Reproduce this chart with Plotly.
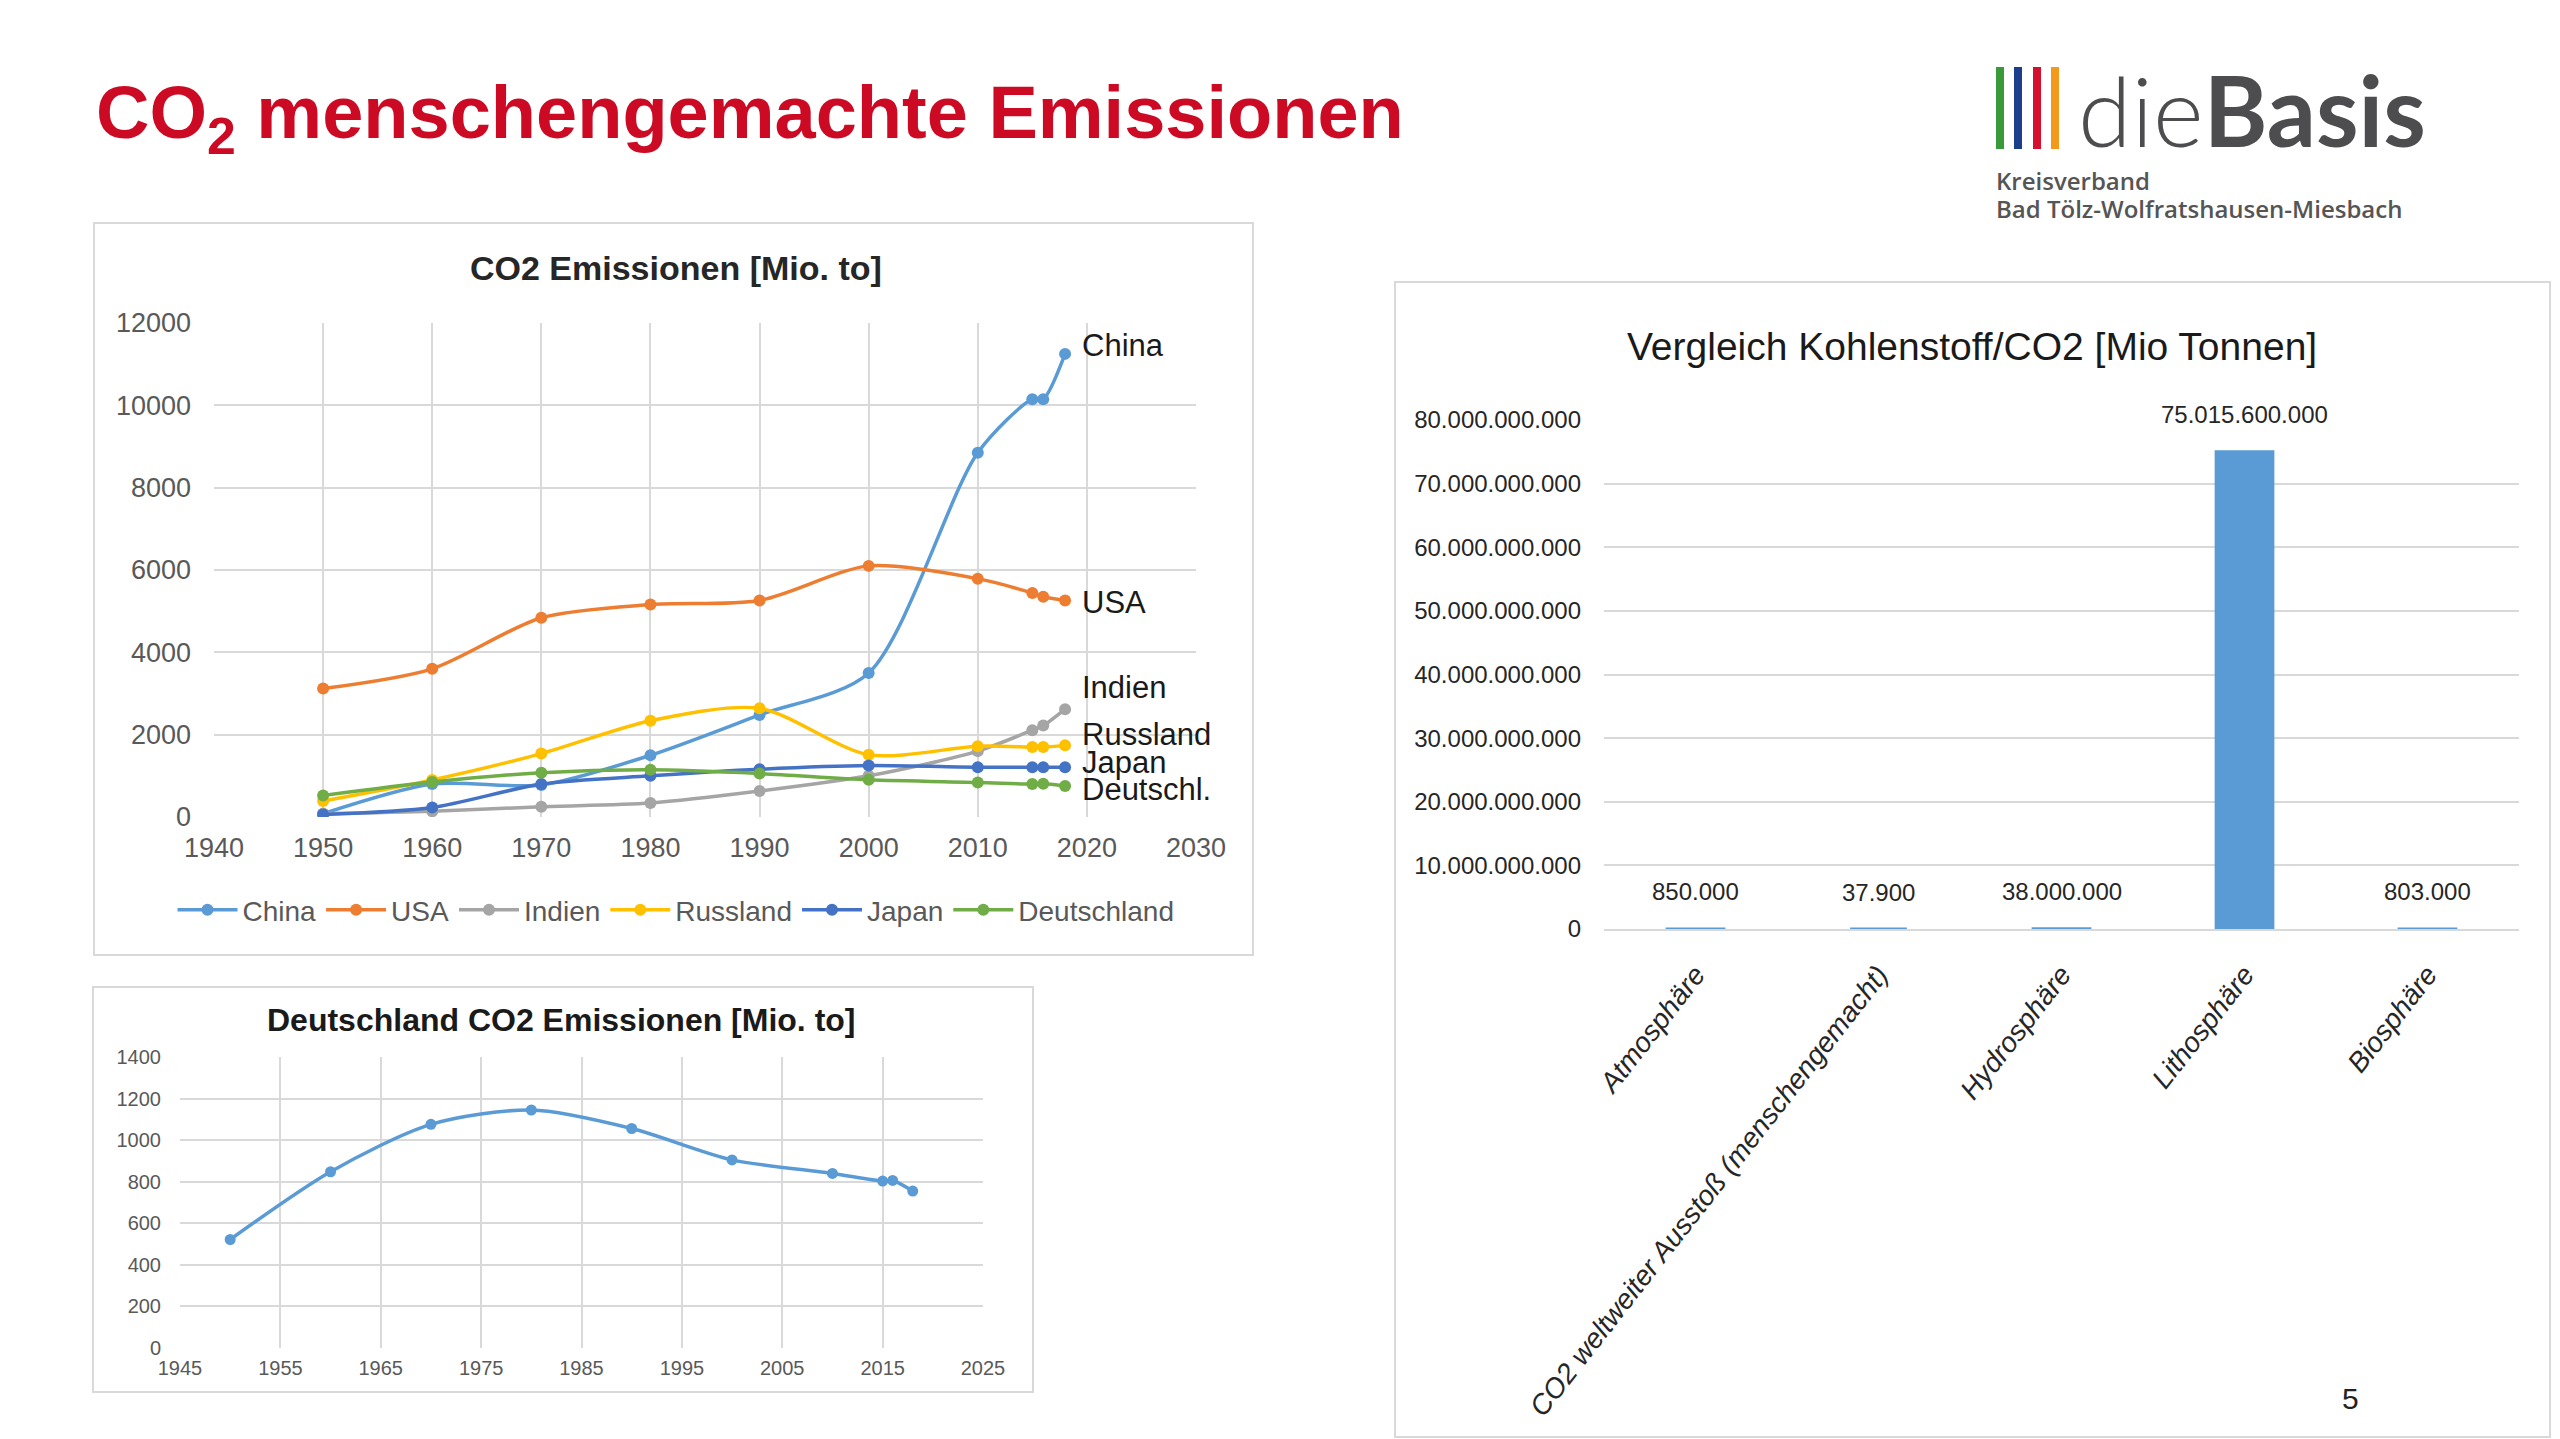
import plotly.graph_objects as go

W, H = 2560, 1439
OFF = 8  # the page body margin shifts the figure by this many pixels

# --- chart 1: CO2 Emissionen [Mio. to] ---
years = [1950, 1960, 1970, 1980, 1990, 2000, 2010, 2015, 2016, 2018]
china = [80, 800, 780, 1500, 2480, 3500, 8850, 10150, 10150, 11250]
usa = [3120, 3600, 4840, 5160, 5260, 6100, 5790, 5440, 5350, 5260]
indien = [80, 140, 250, 340, 630, 1000, 1600, 2110, 2220, 2620]
russland = [390, 900, 1540, 2340, 2640, 1510, 1720, 1700, 1700, 1740]
japan = [60, 230, 800, 1000, 1160, 1250, 1210, 1210, 1210, 1210]
deutschland = [525, 850, 1075, 1145, 1055, 905, 840, 800, 805, 755]

countries = ["China", "USA", "Indien", "Russland", "Japan", "Deutschland"]
colors = ["#5B9BD5", "#ED7D31", "#A5A5A5", "#FFC000", "#4472C4", "#70AD47"]
end_labels = ["China", "USA", "Indien", "Russland", "Japan", "Deutschl."]
end_label_y = [11450, 5200, 3150, 2000, 1330, 660]
end_label_x = 2019.4

# --- chart 2: Deutschland CO2 Emissionen [Mio. to] ---
de_years = [1950, 1960, 1970, 1980, 1990, 2000, 2010, 2015, 2016, 2018]
de_values = [522, 848, 1076, 1145, 1056, 905, 840, 803, 806, 755]

# --- chart 3: Vergleich Kohlenstoff/CO2 [Mio Tonnen] ---
spheres = ["Atmosphäre", "CO2 weltweiter Ausstoß (menschengemacht)", "Hydrosphäre",
           "Lithosphäre", "Biosphäre"]
carbon = [850000, 37900, 38000000, 75015600000, 803000]

SANS = "Liberation Sans, Arial, sans-serif"
GRID = "#d9d9d9"
TICK = "#595959"


def px(x):
    return (x - OFF) / W


def py(y):
    return 1 - (y - OFF) / H


def label(x, y, text, font, xanchor="center"):
    return dict(x=px(x), y=py(y), xref="paper", yref="paper", text=text,
                showarrow=False, xanchor=xanchor, yanchor="middle", font=font)


fig = go.Figure()

series = [china, usa, indien, russland, japan, deutschland]
for name, vals, col in zip(countries, series, colors):
    fig.add_trace(go.Scatter(
        x=years, y=vals, name=name, mode="lines+markers",
        line=dict(color=col, width=3.5, shape="spline", smoothing=0.8),
        marker=dict(color=col, size=12),
        xaxis="x", yaxis="y"))

fig.add_trace(go.Scatter(
    x=de_years, y=de_values, mode="lines+markers", showlegend=False,
    line=dict(color="#5B9BD5", width=3.5, shape="spline", smoothing=0.8),
    marker=dict(color="#5B9BD5", size=11),
    xaxis="x2", yaxis="y2"))

fig.add_trace(go.Bar(
    x=spheres, y=carbon, showlegend=False,
    marker=dict(color="#5B9BD5", line=dict(color="#5B9BD5", width=3)),
    xaxis="x3", yaxis="y3"))

annotations = []
for lab, ly in zip(end_labels, end_label_y):
    annotations.append(dict(x=end_label_x, y=ly, xref="x", yref="y", text=lab,
                            showarrow=False, xanchor="left", yanchor="middle",
                            font=dict(family=SANS, size=31, color="#1a1a1a")))

for cat, val in zip(spheres, carbon):
    annotations.append(dict(x=cat, y=val, xref="x3", yref="y3",
                            text=f"{val:,}".replace(",", "."), showarrow=False,
                            xanchor="center", yanchor="middle", yshift=37,
                            font=dict(family=SANS, size=24, color="#262626")))

# titles and page texts
annotations += [
    label(94, 118, "CO<sub>2</sub> menschengemachte Emissionen",
          dict(family=SANS, size=74, color="#cc0a24", weight="bold"), xanchor="left"),
    label(676, 268, "CO2 Emissionen [Mio. to]",
          dict(family=SANS, size=34, color="#262626", weight="bold")),
    label(561, 1020, "Deutschland CO2 Emissionen [Mio. to]",
          dict(family=SANS, size=32, color="#1a1a1a", weight="bold")),
    label(1972, 346, "Vergleich Kohlenstoff/CO2 [Mio Tonnen]",
          dict(family=SANS, size=39, color="#1a1a1a")),
    label(2350, 1398, "5", dict(family=SANS, size=30, color="#222222")),
    label(2076, 110, "die<b>Basis</b>",
          dict(family="Lato, Open Sans, sans-serif", size=97, color="#4d4d4f", weight=300),
          xanchor="left"),
    label(1994, 180, "Kreisverband",
          dict(family="Open Sans, sans-serif", size=24, color="#555555", weight=600),
          xanchor="left"),
    label(1994, 209, "Bad Tölz-Wolfratshausen-Miesbach",
          dict(family="Open Sans, sans-serif", size=24, color="#555555", weight=600),
          xanchor="left"),
]

shapes = []
# chart frames
for x0, y0, x1, y1 in [(94, 223, 1253, 955), (93, 987, 1033, 1392), (1395, 282, 2550, 1437)]:
    shapes.append(dict(type="rect", xref="paper", yref="paper", x0=px(x0), x1=px(x1),
                       y0=py(y1), y1=py(y0), line=dict(color="#d9d9d9", width=2),
                       layer="below"))
# logo stripes
for x0, col in [(1996, "#3a9a3a"), (2014, "#1b3f8b"), (2033, "#d5102e"), (2051, "#f39a1a")]:
    shapes.append(dict(type="rect", xref="paper", yref="paper", x0=px(x0), x1=px(x0 + 8),
                       y0=py(149), y1=py(67), fillcolor=col, line=dict(width=0)))

axis_common = dict(showgrid=True, gridcolor=GRID, gridwidth=1.5, showline=False,
                   zeroline=False, ticks="", automargin=False)

fig.update_layout(
    width=W, height=H,
    margin=dict(l=0, r=0, t=0, b=0, autoexpand=False),
    paper_bgcolor="white", plot_bgcolor="white",
    separators=",.",
    font=dict(family=SANS, color=TICK),
    showlegend=True,
    legend=dict(orientation="h", x=px(676), y=py(910), xanchor="center", yanchor="middle",
                font=dict(family=SANS, size=28, color=TICK), itemwidth=60,
                bgcolor="rgba(0,0,0,0)"),
    xaxis=dict(domain=[px(214), px(1196)], range=[1940, 2030], dtick=10, tick0=1940,
               tickformat="d", anchor="y", tickfont=dict(size=27, color=TICK),
               ticklabelstandoff=12, **axis_common),
    yaxis=dict(domain=[py(817), py(323)], range=[0, 12000], dtick=2000, tickformat="d",
               anchor="x", tickfont=dict(size=27, color=TICK), ticklabelstandoff=22,
               **axis_common),
    xaxis2=dict(domain=[px(180), px(983)], range=[1945, 2025], dtick=10, tick0=1945,
                tickformat="d", anchor="y2", tickfont=dict(size=20, color=TICK),
                ticklabelstandoff=6, **axis_common),
    yaxis2=dict(domain=[py(1348), py(1057)], range=[0, 1400], dtick=200, tickformat="d",
                anchor="x2", tickfont=dict(size=20, color=TICK), ticklabelstandoff=18,
                **axis_common),
    xaxis3=dict(domain=[px(1604), px(2519)], anchor="y3", tickangle=-52, showgrid=False,
                showline=True, linecolor=GRID, linewidth=2, ticks="", ticklabelstandoff=16,
                automargin=False,
                tickfont=dict(family=SANS, size=28, color="#262626", style="italic")),
    yaxis3=dict(domain=[py(929), py(420)], range=[0, 80e9], dtick=10e9, tickformat=",d",
                anchor="x3", tickfont=dict(family=SANS, size=24, color="#262626"),
                ticklabelstandoff=22, **axis_common),
    bargap=0.69,
    annotations=annotations,
    shapes=shapes,
)

fig.write_html("out.html")
